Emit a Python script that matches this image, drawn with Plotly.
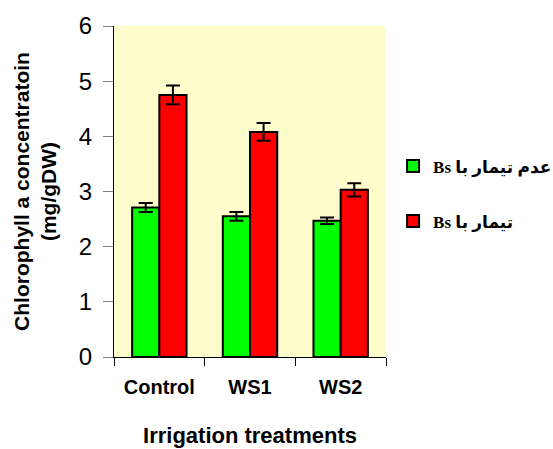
import plotly.graph_objects as go

# Irrigation treatments and chlorophyll a concentration (mg/gDW)
treatments = ["Control", "WS1", "WS2"]
no_bs_values = [2.71, 2.55, 2.47]
no_bs_errors = [0.08, 0.08, 0.06]
bs_values = [4.75, 4.08, 3.03]
bs_errors = [0.17, 0.16, 0.12]
series_names = ["<b>Bs عدم تیمار با</b>", "<b>Bs تیمار با</b>"]
y_ticks = [0, 1, 2, 3, 4, 5, 6]

sans = "Liberation Sans, Arial, sans-serif"
serif = "Liberation Serif, Times New Roman, DejaVu Sans, serif"

fig = go.Figure()
fig.add_trace(go.Bar(
    x=treatments, y=no_bs_values, name=series_names[0], legendgroup="a",
    marker=dict(color="#00FF00", line=dict(color="black", width=2)),
    error_y=dict(type="data", array=no_bs_errors, color="black", thickness=2, width=7),
))
fig.add_trace(go.Bar(
    x=treatments, y=bs_values, name=series_names[1], legendgroup="b",
    marker=dict(color="#FF0000", line=dict(color="black", width=2)),
    error_y=dict(type="data", array=bs_errors, color="black", thickness=2, width=7),
))

fig.update_layout(
    width=553, height=449,
    margin=dict(l=114, r=167, t=26, b=92, autoexpand=False),
    paper_bgcolor="white",
    plot_bgcolor="#FFFDCC",
    barmode="group", bargap=0.4, bargroupgap=0,
    font=dict(family=sans, color="black"),
    legend=dict(
        x=1.026, y=0.63, xanchor="left", yanchor="top",
        traceorder="grouped", tracegroupgap=30,
        font=dict(family=serif, size=17, color="black"),
        bgcolor="rgba(0,0,0,0)",
    ),
    xaxis=dict(
        automargin=False,
        showline=True, linecolor="black", linewidth=1,
        ticks="outside", tickson="boundaries", ticklen=8, tickcolor="black",
        tickfont=dict(family=sans, size=20, color="black"),
        tickangle=0,
        tickprefix="<b>", ticksuffix="</b>",
        ticklabelstandoff=12,
        title=dict(text="<b>Irrigation treatments</b>",
                   font=dict(family=sans, size=22, color="black"), standoff=30),
    ),
    yaxis=dict(
        automargin=False,
        range=[0, 6], tickvals=y_ticks,
        showline=True, linecolor="black", linewidth=1,
        ticks="outside", ticklen=10, tickcolor="#808080",
        tickfont=dict(family=sans, size=24, color="black"),
        ticklabelstandoff=6,
        showgrid=False, zeroline=False,
        title=dict(text="<b>Chlorophyll a concentratoin<br>(mg/gDW)</b>",
                   font=dict(family=sans, size=21, color="black"), standoff=16),
    ),
)

fig.write_html("out.html")
